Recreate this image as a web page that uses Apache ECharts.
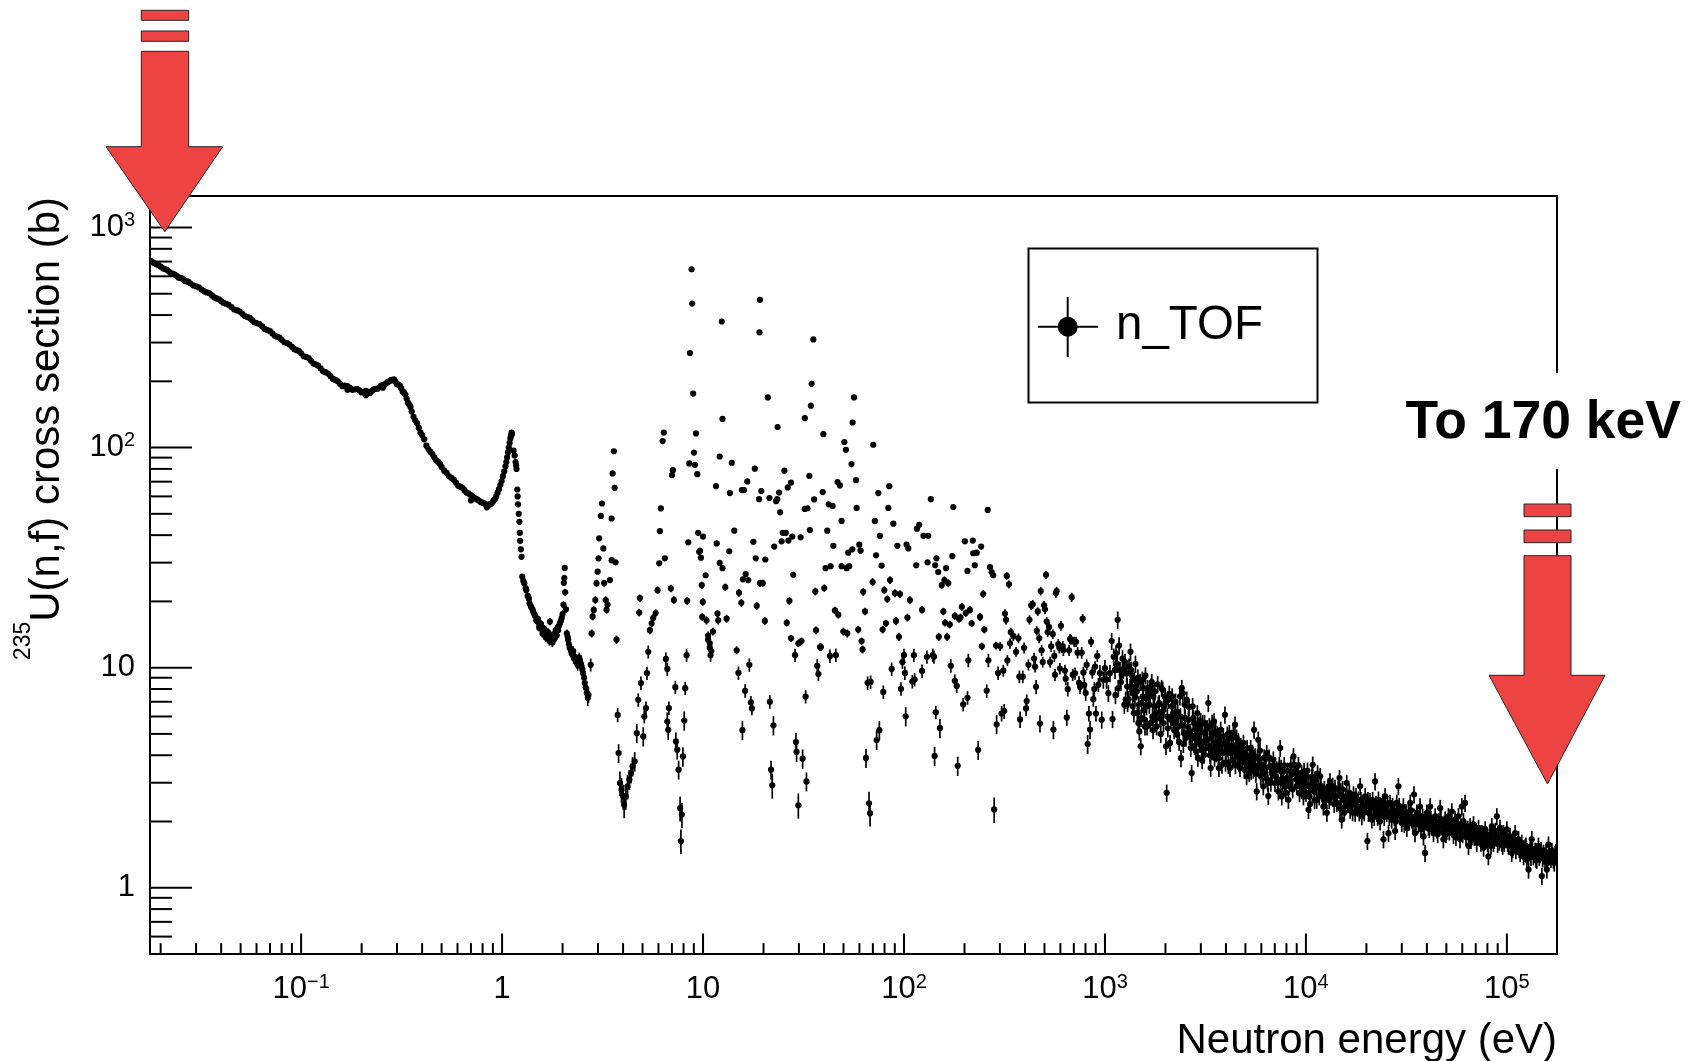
<!DOCTYPE html>
<html>
<head>
<meta charset="utf-8">
<script src="https://cdn.jsdelivr.net/npm/echarts@6.0.0/dist/echarts.min.js"></script>
<style>
html,body{margin:0;padding:0;background:#fff;}
#chart{width:1691px;height:1061px;}
</style>
</head>
<body>
<div id="chart"></div>
<script>
// ---------- axis ranges ----------
const X_MIN = 0.0177, X_MAX = 177600;
const Y_MIN = 0.5, Y_MAX = 1390;

// ---------- tick values / labels ----------
const xMajorTicks = [0.1, 1, 10, 100, 1000, 10000, 100000];
const xTickLabels = ['10{s|−1}', '1', '10', '10{s|2}', '10{s|3}', '10{s|4}', '10{s|5}'];
const xMinorTicks = [0.02,0.03,0.04,0.05,0.06,0.07,0.08,0.09,
  0.2,0.3,0.4,0.5,0.6,0.7,0.8,0.9, 2,3,4,5,6,7,8,9, 20,30,40,50,60,70,80,90,
  200,300,400,500,600,700,800,900, 2000,3000,4000,5000,6000,7000,8000,9000,
  20000,30000,40000,50000,60000,70000,80000,90000];
const yMajorTicks = [1, 10, 100, 1000];
const yTickLabels = ['1', '10', '10{s|2}', '10{s|3}'];
const yMinorTicks = [0.6,0.7,0.8,0.9, 2,3,4,5,6,7,8,9, 20,30,40,50,60,70,80,90, 200,300,400,500,600,700,800,900];

// ---------- data: [energy (eV), cross section (b)] ----------
// thermal / 1/v region (error bars smaller than markers)
const thermal = [[0.0177,708],[0.018,701],[0.019,681],[0.020,664],[0.021,647],[0.022,631],[0.023,615],[0.024,603],[0.025,590],[0.026,579],[0.027,569],[0.028,558],[0.030,540],[0.032,522],[0.034,507],[0.036,491],[0.038,476],[0.040,463],[0.042,451],[0.045,435],[0.048,420],[0.051,405],[0.054,392],[0.057,379],[0.060,368],[0.064,355],[0.068,342],[0.072,330],[0.076,319],[0.080,309],[0.085,298],[0.090,287],[0.095,277],[0.100,268],[0.106,258],[0.112,248],[0.118,239],[0.125,229],[0.132,220],[0.140,211],[0.148,203],[0.156,195],[0.165,191],[0.17,183],[0.175,187],[0.185,184],[0.195,182],[0.205,179],[0.21,173],[0.215,179],[0.225,181],[0.235,185],[0.245,188],[0.255,192],[0.255,187],[0.265,196],[0.275,200],[0.285,202],[0.295,199],[0.305,193],[0.315,186],[0.325,178],[0.335,167],[0.345,157],[0.355,146],[0.37,133],[0.385,123],[0.40,114],[0.42,102],[0.44,95.5],[0.46,90.2],[0.48,86.1],[0.50,81.7],[0.53,76.7],[0.56,72.8],[0.59,69.2],[0.62,66.4],[0.65,64.0],[0.68,61.9],[0.70,57.5],[0.71,60.1],[0.74,58.6],[0.77,57.3],[0.80,56.2],[0.83,55.2],[0.84,53.5],[0.86,55.0],[0.89,56.0],[0.92,58.2],[0.95,62.4],[0.98,67.6],[1.01,74.1],[1.04,82.2],[1.06,90.2],[1.08,100],[1.10,110],[1.12,115]];
const thermalB = [[0.0185,690],[0.0195,676],[0.0205,652],[0.0215,642],[0.0225,620],[0.0235,611],[0.0245,593],[0.0255,588],[0.0265,571],[0.0275,566],[0.029,546],[0.031,534],[0.033,512],[0.035,502],[0.037,481],[0.039,472],[0.041,455],[0.0435,446],[0.0465,424],[0.0495,415],[0.0525,396],[0.0555,388],[0.0585,371],[0.062,364],[0.066,345],[0.070,338],[0.074,322],[0.078,316],[0.0825,301],[0.0875,294],[0.0925,280],[0.0975,274],[0.103,260],[0.109,255],[0.115,241],[0.1215,236],[0.1285,222],[0.136,217],[0.144,205],[0.152,200],[0.1605,190],[0.170,190],[0.180,183],[0.190,185],[0.200,178],[0.210,181],[0.220,177],[0.230,184],[0.240,185],[0.250,191],[0.260,193],[0.270,199],[0.280,203],[0.290,204],[0.300,194],[0.310,191],[0.320,180],[0.330,174],[0.340,160],[0.350,153],[0.3625,138],[0.3775,129],[0.3925,117],[0.41,109],[0.43,98.5],[0.45,93.5],[0.47,87.5],[0.49,84.5],[0.515,78.5],[0.545,74.0],[0.575,71.5],[0.605,67.0],[0.635,65.5],[0.665,62.5],[0.695,61.0],[0.725,59.0],[0.755,58.0],[0.785,56.5],[0.815,55.8],[0.845,54.6],[0.875,55.3],[0.905,57.2],[0.935,60.0],[0.965,64.8],[0.995,70.5],[1.025,78.0],[1.05,86.0],[1.07,95.0],[1.09,105],[1.105,113],[1.115,117]];

// resolved resonance region: [E, sigma, error]
const resolvedLow = [[1.14,97,0],[1.167,86,0],[1.18,80,0],[1.19,64.5,0],[1.20,55.2,0],[1.22,46,0],[1.23,37.7,0],[1.25,31.9,0],[1.26,25.9,0],[1.29,24.2,0.6],[1.32,22.5,0.6],[1.35,21.0,0.6],[1.37,19.6,0.6],[1.40,18.8,0.6],[1.43,17.9,0.6],[1.46,17.2,0.6],[1.49,16.7,0.6],[1.52,16.0,0.6],[1.54,15.6,0.6],[1.57,15.2,0.6],[1.60,14.8,0.6],[1.63,14.4,0.6],[1.67,14.1,0.6],[1.70,13.8,0.6],[1.73,16.2,0.6],[1.76,13.6,0.6],[1.80,13.9,0.6],[1.83,14.3,0.6],[1.87,14.0,0.6],[1.90,14.8,0.6],[1.94,15.9,0.6],[1.98,16.8,0.6],[2.02,19.3,0.7],[2.03,24.3,0.8],[2.04,25.5,0.8],[2.05,28.4,0.8],[2.08,18.4,0.7],[2.10,14.3,0.6],[2.13,13.4,0.6],[2.17,12.3,0.6],[2.22,11.6,0.6],[2.26,11.9,0.6],[2.30,11.2,0.6],[2.35,10.5,0.6],[2.40,10.9,0.6],[2.44,10.8,0.6],[2.49,10.1,0.6],[2.53,9.44,0.6],[2.58,8.51,0.6],[2.64,7.66,0.6],[2.69,7.52,0.6],
[1.155,92,0],[1.175,83,0],[1.195,60,0],[1.21,50,0],[1.225,41,0],[1.24,34.5,0],[1.275,24.8,0.6],[1.31,23.0,0.6],[1.34,21.2,0.6],[1.36,20.5,0.6],[1.39,19.0,0.6],[1.42,18.3,0.6],[1.45,17.4,0.6],[1.48,16.4,0.6],[1.51,16.6,0.6],[1.53,15.2,0.6],[1.56,15.8,0.6],[1.59,14.3,0.6],[1.62,15.0,0.6],[1.65,13.7,0.6],[1.69,14.5,0.6],[1.72,13.2,0.6],[1.75,14.0,0.6],[1.78,13.0,0.6],[1.82,13.5,0.6],[1.85,14.8,0.6],[1.89,15.2,0.6],[1.92,15.5,0.6],[1.96,16.3,0.6],[2.00,17.5,0.7],[2.06,22,0.8],[2.12,13.8,0.6],[2.15,12.8,0.6],[2.20,12.0,0.6],[2.25,11.4,0.6],[2.28,11.0,0.6],[2.33,10.8,0.6],[2.38,10.3,0.6],[2.42,11.1,0.6],[2.47,10.4,0.6],[2.51,9.8,0.6],[2.56,9.0,0.6],[2.61,8.1,0.6],[2.67,7.3,0.6],
[2.76,10.3,0.7],[2.79,14.3,0.6],[2.82,17.1,0.7],[2.86,18.3,0.7],[2.91,20.3,0.8],[2.95,24.2,0.9],[2.99,27.3,0],[3.02,31.4,0],[3.04,38.7,0],[3.10,48.9,0],[3.14,55.7,0],[3.19,34.8,0],[3.22,24.2,0.9],[3.28,20.3,0.8],[3.31,18.3,0.7],[3.35,19.3,0.8],[3.44,25.0,0],[3.51,30.8,0],[3.51,47.6,0],[3.55,76.3,0],[3.60,96.2,0],[3.63,65.6,0],[3.67,30.1,0],[3.71,13.4,0.6],[3.76,6.1,0.45],[3.80,4.09,0.4],[3.86,2.99,0.38],[3.93,2.79,0.36],[4.01,2.60,0.34],[4.05,2.38,0.31],[4.13,2.60,0.34],[4.21,2.89,0.37],[4.30,3.10,0.32],[4.38,3.32,0.34],[4.46,3.56,0.36],[4.57,3.75,0.38],[4.68,5.04,0.5],[4.76,7.14,0.5],[4.81,17.8,0.7],[4.85,20.7,0.8],[4.91,8.51,0.6],[5.04,4.87,0.49],[5.10,6.0,0.42],[5.20,6.55,0.46],[5.26,9.44,0.66],[5.34,11.8,0.8],[5.44,14.8,0.6],[5.55,15.9,0.6],[5.65,16.8,0.7],[5.81,17.7,0.7],[5.94,22.5,0.9],[6.05,29.8,0],[6.10,41.7,0],[6.17,52.9,0],[6.29,107,0],[6.38,117,0],[6.46,31.4,0],[6.53,10.96,0.77],[6.64,9.87,0.69],[6.76,6.55,0.46],[6.64,5.69,0.57],[6.71,5.22,0.52],[6.92,22.9,0.9],[7.00,74.9,0],[7.08,78.9,0],[7.16,20.3,0.8],[7.28,8.15,0.57],[7.33,4.62,0.46],[7.44,4.24,0.42],[7.56,3.44,0.34],[7.69,2.30,0.3],[7.85,2.15,0.28],[7.76,1.63,0.21],[7.94,3.95,0.4],[8.06,5.75,0.58],[8.15,8.07,0.56],[8.28,11.4,0.8],[8.34,20.1,0.8],[8.44,37.1,0],[8.54,84.7,0],
[8.61,269,0],[8.77,646,0],[8.83,451,0],[8.93,176,0],[9.01,94.9,0],[9.12,83.5,0],[9.22,116,0],[9.36,75.7,0],[9.46,41.0,0],[9.57,33.6,0],[9.66,34.0,0],[9.76,31.6,0],[9.85,23.7,0.9],[9.91,17.0,0.7],[9.98,19.9,0.8],[10.0,39.4,0],[10.3,26.3,0],[10.4,16.4,0.7],[10.6,13.4,0.5],[10.8,12.3,0.5]];

const resolvedMid = [[10.6,14.0,0.6],[10.8,12.9,0.5],[11.0,11.9,0.8],[10.9,11.4,0.8],[11.2,14.6,0.6],[11.6,66.8,0],[11.7,36.7,0],[11.8,17.6,0.7],[11.9,16.4,0.7],[12.1,91.1,0],[12.4,374,0],[12.5,135,0],[12.1,29.9,0],[12.5,28.3,0],[12.9,23.2,0.9],[13.1,16.7,0.7],[13.5,33.8,0],[13.6,62.1,0],[13.9,85.3,0],[14.3,41.9,0],[14.7,12.0,0.5],[15.0,9.46,0.66],[15.1,21.9,0.9],[15.5,19.7,0.8],[15.7,5.20,0.52],[15.6,64.1,0],[16.0,64.1,0],[15.8,25.2,0],[16.3,26.6,0],[16.8,25.0,0],[16.2,7.85,0.55],[16.6,70.2,0],[17.0,10.3,0.72],[17.3,6.95,0.49],[17.5,6.53,0.46],[17.8,37.3,0],[18.1,80.2,0],[18.3,31.4,0],[18.5,19.1,0.8],[19.0,58.3,0],[19.1,334,0],[19.2,469,0],[19.5,63.4,0],[19.2,24.2,0.9],[19.8,24.2,0.9],[20.3,16.3,0.7],[20.4,31.0,0],[21.0,169,0],[21.4,59.0,0],[21.5,7.0,0.49],[22.4,5.47,0.55],[21.8,3.44,0.34],[22.1,2.92,0.38],[22.6,35.5,0],[23.1,57.1,0],[23.4,58.3,0],[23.5,124,0],[23.9,62.5,0],[24.2,50.8,0],[24.6,37.5,0],[24.9,41.0,0],[25.4,78.5,0],[25.8,41.0,0],[26.1,16.0,0.6],[26.4,65.9,0],[26.6,37.8,0],[26.9,20.1,0.8],[27.4,69.3,0],[27.4,13.6,0.5],[27.8,39.4,0],[28.1,26.4,0],[28.7,11.4,0.8],[29.2,4.14,0.41],[29.0,4.59,0.46],[29.8,2.37,0.31],[29.8,12.9,0.5],[30.6,39.1,0],[30.9,13.2,0.5],[31.3,3.86,0.39],[32.1,136,0],[32.4,7.39,0.52],[32.7,3.04,0.3],[32.1,52.6,0],[33.1,53.0,0],[33.8,74.3,0],[34.0,42.2,0],[34.4,155,0],[34.7,195,0],[35.4,310,0],[35.7,58.1,0],[36.2,22.2,0.9],[36.5,14.8,0.6],[37.0,10.2,0.71],[37.5,9.35,0.65],[38.2,12.4,0.5],[38.6,12.4,0.5],[39.4,62.8,0],[39.7,115,0],[40.1,23.0,0.9],[40.7,28.3,0],[41.5,41.9,0],[42.2,55.2,0],[42.8,11.3,0.79],[43.1,28.9,0],[44.1,54.3,0],[44.5,35.8,0],[45.3,18.2,0.7],[45.8,11.4,0.8],[46.7,69.7,0],[47.1,17.4,0.7],[48.0,67.3,0],[48.9,46.4,0],[48.9,28.9,0],[49.9,14.6,0.6],[50.5,106,0],[51.4,97.7,0],[51.8,28.3,0],[52.2,14.3,0.6],[52.8,33.3,0],[53.4,28.9,0],[54.8,84.1,0],[55.3,34.5,0],[55.5,130,0],[56.4,169,0],[57.7,71.1,0],[58.1,53.2,0],[59.2,14.9,0.6],[59.9,36.2,0],[60.8,34.0,0],[61.5,13.2,0.5],[62.2,12.1,0.5],[62.7,22.1,0.9],[64.0,18.0,0.7],[64.7,3.89,0.39],[65.9,8.53,0.6],[67.0,2.42,0.31],[67.8,2.18,0.28],[68.2,8.61,0.6],[69.8,24.5,1.0],[70.3,103,0],[71.6,46.4,0],[72.6,32.4,0],[73.1,4.69,0.47],[74.5,62.1,0],[75.4,5.20,0.52],[75.9,39.7,0],[77.4,29.1,0],[78.3,14.9,0.6],[78.9,7.76,0.54],[79.8,22.5,0.9],[81.3,15.9,0.6],[82.6,20.5,0.8],[83.6,53.2,0],[84.5,66.8,0],[85.2,25.0,1.0],[86.8,9.87,0.69],[88.5,45.1,0],[90.2,21.8,0.9],[91.2,16.3,0.7],[92.7,35.8,0],[94.4,13.8,0.6],[95.5,21.6,0.9],[96.6,8.02,0.56],[98.2,10.6,0.74],[100,11.4,0.8],[101,9.46,0.66],[102,6.01,0.6],[103,36.2,0],[104,16.9,0.7],[105,34.8,0],[107,20.3,0.8],[110,8.65,0.61],[112,11.4,0.8],[113,8.83,0.62],[115,29.2,0],[116,42.8,0],[119,44.6,0],[123,9.66,0.68],[123,18.3,0.7],[125,39.7,0],[130,11.2,0.78],[131,30.1,0],[132,39.7,0],[136,58.3,0],[139,11.4,0.8],[141,11.2,0.78],[142,3.97,0.4],[143,29.2,0],[144,6.27,0.44],[145,31.4,0],[148,27.2,0],[149,13.8,0.6],[151,5.31,0.53],[154,23.7,0.9],[157,18.0,0.7],[159,25.0,1.0],[160,16.0,0.6],[162,28.3,0],[164,13.8,0.6],[166,24.2,1.0],[169,15.7,0.6],[171,10.2,0.71],[174,32.1,0],[176,53.7,0],[179,17.2,0.7],[179,8.71,0.61],[183,8.26,0.58],[185,3.58,0.36],[188,16.7,0.7],[191,16.9,0.7],[194,18.9,0.8],[197,6.81,0.48],[201,37.5,0],[203,17.7,0.7],[207,7.30,0.51],[207,27.5,0],[209,10.8,0.76],[213,18.3,0.7],[217,15.9,0.6],[220,37.8,0],[221,33.1,0],[225,29.2,0],[230,33.3,0],[234,4.23,0.42],[239,17.0,0.7],[242,35.5,0],[244,12.5,0.5],[248,21.6,0.9],[251,14.9,0.6],[258,7.85,0.55],[261,52.1,0],[263,10.8,0.76],[268,28.6,0],[273,27.2,0],[278,26.3,0],[281,2.27,0.3],[287,12.6,0.5],[289,5.53,0.55],[294,9.46,0.66]];

const resolvedHigh = [[301,12.5,0.6],[306,6.19,0.5],[312,9.70,0.6],[315,6.34,0.5],[318,17.6,0.8],[322,16.5,0.8],[325,26.1,1.0],[327,10.8,0.6],[333,23.9,1.0],[337,12.9,0.7],[340,14.5,0.7],[350,13.9,0.7],[361,11.8,0.6],[371,13.6,0.7],[375,9.1,0.6],[378,5.82,0.5],[390,9.1,0.6],[396,12.3,0.7],[405,6.53,0.5],[408,7.05,0.5],[416,10.3,0.6],[421,16.5,0.8],[429,19.2,0.9],[437,19.4,0.9],[444,11.0,0.7],[449,10.1,0.6],[454,8.18,0.6],[458,14.7,0.7],[463,18.0,0.8],[471,13.6,0.7],[475,5.57,0.5],[479,22.3,1.0],[484,12.0,0.7],[490,10.6,0.6],[498,19.2,0.9],[503,18.4,0.9],[509,26.4,1.1],[513,16.2,0.8],[519,14.5,0.7],[527,15.3,0.8],[533,10.6,0.6],[540,12.5,0.7],[550,14.2,0.7],[554,5.23,0.5],[560,11.3,0.7],[564,9.29,0.6],[570,21.8,1.0],[575,22.3,1.0],[586,12.8,0.7],[593,12.3,0.7],[597,9.91,0.6],[604,15.5,0.8],[617,12.5,0.7],[621,12.0,0.7],[632,9.70,0.6],[638,8.91,0.6],[646,5.94,0.5],[653,8.0,0.6],[663,12.0,0.7],[670,13.5,0.7],[678,13.4,0.7],[683,20.9,1.0],[691,9.29,0.6],[702,13.1,0.7],[710,9.42,0.6],[718,13.1,0.7],[731,11.7,0.7],[743,8.53,0.6],[752,8.18,0.6],[766,11.7,0.7],[775,16.7,0.8],[781,9.51,0.6],[789,8.36,0.6],[802,7.67,0.6],[811,10.3,0.6],[820,4.50,0.45],[832,6.19,0.5],[843,5.23,0.5],[853,13.1,0.7],[865,9.51,0.6],[875,7.19,0.55],[885,8.0,0.6],[893,10.1,0.6],[902,6.19,0.5],[916,11.3,0.7],[927,8.36,0.6]];

// unresolved / continuum region: [E, sigma]; error bars ~9 %
const CONT_REL_ERR = 0.09;
const continuumA = [[944,9.44],[964,5.80],[982,8.81],[1000,9.95],[1019,8.81],[1040,7.66],[1059,9.44],[1080,13.2],[1091,5.84],[1122,9.77],[1135,11.6],[1157,16.5],[1165,8.07],[1188,9.77],[1211,9.27],[1234,9.77],[1248,6.78],[1268,7.14],[1282,9.44],[1297,6.90],[1318,10.1],[1334,8.20],[1349,9.77],[1359,8.20],[1374,6.67],[1384,7.66],[1400,8.81],[1410,7.39],[1426,8.20],[1449,6.21],[1466,5.60],[1483,5.13],[1507,4.39],[1524,6.90],[1542,7.39],[1553,8.07],[1571,5.80],[1582,5.41],[1600,7.28],[1611,6.67],[1630,8.07],[1663,6.78],[1675,7.66],[1694,8.20],[1726,6.0],[1742,7.39],[1762,6.67],[1787,5.80],[1808,5.41],[1843,6.78],[1879,5.90],[1914,8.07],[1937,7.93],[1967,6.67],[1991,7.39],[2013,4.39],[2028,2.70],[2044,6.0],[2067,7.14],[2108,4.55],[2148,6.67],[2173,6.11],[2188,5.60],[2232,6.21],[2258,5.70],[2291,4.96],[2318,5.41],[2361,7.39],[2389,3.88],[2410,8.07],[2438,7.66],[2473,5.04],[2502,5.90],[2553,7.14],[2602,5.80],[2633,4.88],[2673,4.31],[2700,3.32],[2731,6.67],[2773,5.60],[2806,4.79],[2838,4.17],[2882,6.21],[2916,5.22],[2950,4.62],[2993,5.70],[3028,4.24],[3063,5.60],[3110,4.02],[3148,5.04],[3209,4.70],[3269,6.90],[3307,5.41],[3357,3.50],[3396,4.17],[3436,5.04],[3491,5.70],[3532,4.55],[3574,4.09],[3624,4.96],[3666,3.88],[3709,4.70],[3767,5.22],[3822,3.62],[3881,4.88],[3954,6.11],[4000,4.17],[4064,4.96],[4111,3.62],[4159,5.04],[4226,4.09],[4275,4.79],[4355,4.96],[4437,5.51],[4488,4.31],[4560,3.95],[4613,4.62],[4699,3.50],[4787,4.17],[4887,4.55],[4943,3.44],[5035,4.02],[5070,3.21],[5129,3.82],[5224,3.32],[5309,4.31],[5370,3.82],[5470,3.44],[5520,5.22],[5585,3.95],[5690,2.74],[5794,4.70],[5861,3.82],[5957,3.21],[6026,3.62],[6138,2.89],[6252,3.38],[6383,4.09],[6427,3.10],[6501,2.61],[6622,3.56],[6761,3.32],[6887,3.82],[7015,2.99],[7161,3.44],[7295,2.74]];
const continuumA2 = [[1105,11.2],[1128,7.5],[1150,10.4],[1176,12.6],[1200,8.6],[1222,11.0],[1258,10.6],[1290,8.2],[1310,7.2],[1340,11.8],[1366,9.2],[1392,6.2],[1418,10.4],[1440,7.8],[1458,9.0],[1475,6.8],[1495,8.6],[1515,5.9],[1535,8.8],[1560,6.4],[1590,9.2],[1620,5.4],[1650,7.6],[1685,5.6],[1710,8.6],[1735,5.2],[1770,7.8],[1800,6.2],[1830,8.4],[1860,6.9],[1895,5.0],[1925,6.3],[1955,5.6],[2000,6.9],[2055,5.3],[2090,7.6],[2130,5.8],[2160,7.4],[2210,5.2],[2245,7.0],[2300,6.3],[2340,4.6],[2375,6.0],[2420,5.5],[2455,4.5],[2490,6.8],[2530,4.8],[2580,5.4],[2620,6.6],[2660,5.1],[2715,4.9],[2750,5.9],[2790,4.4],[2825,5.3],[2860,4.9],[2900,3.9],[2940,5.5],[2975,4.5],[3010,5.1],[3045,3.8],[3090,4.6],[3130,5.6],[3170,4.3],[3230,5.3],[3290,4.4],[3330,4.0],[3375,4.8],[3415,5.6],[3470,4.3],[3510,3.9],[3555,5.1],[3600,4.3],[3645,4.5],[3690,3.5],[3740,4.2],[3795,4.5],[3850,4.1],[3920,4.5],[3980,3.7],[4030,4.6],[4090,4.3],[4140,4.4],[4190,3.5],[4250,4.4],[4310,3.8],[4400,4.2],[4460,3.6],[4520,4.8],[4590,4.1],[4650,3.7],[4740,4.4],[4830,3.9],[4920,4.1],[4990,3.7],[5100,4.3],[5180,3.6],[5260,3.9],[5340,3.4],[5420,4.1],[5550,3.6],[5640,3.3],[5740,3.9],[5830,3.5],[5910,4.2],[6080,3.3],[6200,3.9],[6320,3.5],[6460,3.0],[6560,3.9],[6690,3.0],[6820,3.4],[6950,3.6],[7090,3.2],[7230,3.0],[7370,3.6]];

const continuumB = [[7447,4.31],[7499,3.10],[7586,2.60],[7727,3.38],[7870,2.89],[8035,3.15],[8185,2.51],[8337,3.04],[8511,3.27],[8670,3.95],[8770,3.62],[8933,3.10],[9078,3.32],[9290,2.69],[9419,3.15],[9638,2.84],[9795,3.38],[9908,2.99],[10090,3.21],[10300,2.26],[10420,2.60],[10570,2.89],[10810,3.62],[10990,2.74],[11110,3.10],[11320,2.51],[11530,2.84],[11780,3.21],[11990,2.69],[12220,2.34],[12470,2.60],[12710,2.19],[12940,2.89],[13180,3.04],[13460,2.79],[13710,2.60],[13960,2.84],[14260,2.43],[14690,3.15],[14890,2.74],[15070,2.04],[15380,2.51],[15670,2.34],[15960,2.99],[16290,2.56],[16600,2.26],[16900,2.43],[17260,2.65],[17580,2.19],[17910,2.34],[18240,2.51],[18620,2.89],[18970,2.11],[19320,2.30],[19720,2.60],[20230,1.63],[20470,2.19],[20840,2.47],[21280,2.04],[21680,2.34],[22080,3.04],[22540,2.19],[22960,2.51],[23390,2.00],[23880,2.34],[24320,1.66],[24770,2.60],[25240,2.19],[25760,1.77],[26240,2.43],[26730,2.04],[27290,2.26],[27800,1.81],[28310,2.43],[28840,2.89],[29440,2.19],[29990,1.97],[30550,2.34],[31190,2.04],[31770,1.87],[32360,2.19],[33040,2.43],[33650,2.04],[34510,2.65],[34910,1.77],[35650,2.19],[36310,1.94],[36980,2.34],[37760,2.00],[38460,1.71],[39170,1.44],[39990,2.19],[40740,1.90],[41500,2.34],[42270,1.97],[43150,1.77],[43950,2.11],[44770,1.84],[45710,2.00],[46560,2.30],[47420,1.90],[48310,1.66],[49320,2.04],[50230,1.81],[51170,2.11],[52240,1.90],[53210,2.22],[54200,1.74],[55210,2.04],[56360,1.84],[57410,2.11],[58480,1.66],[59700,2.34],[60810,2.00],[61940,2.43],[63240,1.81],[64420,1.55],[65620,1.90],[66990,1.71],[68230,1.94],[69500,1.74],[70790,1.60],[72280,1.87],[73620,1.68],[74990,1.77],[76560,1.52],[77980,1.84],[79430,1.66],[80910,1.39],[82600,1.74],[84140,1.90],[85700,1.60],[87500,1.81],[89130,2.11],[90780,1.71],[92470,1.87],[94410,1.60],[96160,1.77],[97950,1.66],[100000,1.84],[101900,1.55],[103700,1.71],[105700,1.44],[107900,1.63],[109900,1.77],[111900,1.55],[114300,1.66],[116400,1.44],[118600,1.60],[121100,1.39],[123300,1.52],[125600,1.34],[128200,1.21],[130600,1.49],[133000,1.66],[135500,1.39],[138400,1.47],[140900,1.34],[143600,1.55],[146600,1.42],[149300,1.13],[152100,1.44],[154900,1.32],[158100,1.21],[161100,1.57],[164100,1.39],[167500,1.47],[170600,1.34],[173800,1.42],[177000,1.37]];
const continuumB2 = [[7530,3.5],[7660,3.0],[7800,3.6],[7950,2.7],[8110,3.4],[8260,2.9],[8420,3.6],[8590,2.8],[8850,3.4],[9000,2.9],[9180,3.6],[9350,3.0],[9530,3.3],[9720,2.6],[9850,3.1],[10000,2.7],[10180,3.4],[10360,2.9],[10500,2.4],[10700,3.2],[10900,3.0],[11050,2.5],[11220,2.9],[11430,3.3],[11650,2.6],[11880,2.9],[12100,2.6],[12350,2.8],[12600,2.5],[12830,2.7],[13060,2.5],[13320,2.6],[13590,2.9],[13840,2.4],[14100,2.6],[14470,2.8],[14790,2.3],[14980,2.6],[15220,2.8],[15520,2.2],[15810,2.6],[16130,2.4],[16450,2.7],[16750,2.5],[17080,2.2],[17420,2.4],[17750,2.6],[18080,2.3],[18430,2.2],[18800,2.5],[19140,2.4],[19520,2.2],[19970,2.4],[20350,2.5],[20660,2.2],[21060,2.3],[21480,2.5],[21880,2.1],[22310,2.4],[22750,2.1],[23170,2.3],[23630,2.2],[24100,2.45],[24540,2.1],[25000,2.3],[25500,2.4],[26000,2.1],[26480,2.2],[27010,2.35],[27540,2.1],[28060,2.0],[28570,2.2],[29140,2.35],[29710,2.1],[30270,2.2],[30870,1.95],[31480,2.2],[32060,2.05],[32700,2.0],[33340,2.25],[34080,1.95],[34700,2.1],[35280,2.0],[35980,2.15],[36650,2.05],[37370,1.85],[38110,2.1],[38810,1.9],[39580,2.0],[40360,2.1],[41120,1.85],[41880,2.05],[42710,1.95],[43550,1.9],[44360,2.0],[45240,1.75],[46130,1.95],[46990,2.05],[47860,1.8],[48810,1.95],[49770,1.75],[50700,1.95],[51700,1.8],[52720,2.0],[53700,1.85],[54700,1.9],[55780,1.7],[56880,1.95],[57940,1.8],[59080,1.9],[60250,1.75],[61370,1.9],[62590,1.7],[63830,1.85],[65020,1.75],[66300,1.65],[67600,1.85],[68860,1.7],[70140,1.8],[71530,1.7],[72950,1.75],[74300,1.6],[75770,1.75],[77270,1.65],[78700,1.75],[80170,1.6],[81750,1.7],[83370,1.55],[84920,1.7],[86600,1.65],[88310,1.7],[89950,1.58],[91620,1.62],[93430,1.7],[95280,1.55],[97050,1.6],[98970,1.72],[100900,1.6],[102800,1.65],[104700,1.55],[106800,1.5],[108900,1.6],[110900,1.48],[113100,1.58],[115300,1.5],[117500,1.55],[119800,1.48],[122200,1.45],[124400,1.55],[126900,1.4],[129400,1.45],[131800,1.38],[134200,1.5],[136900,1.42],[139600,1.35],[142200,1.45],[145100,1.38],[147900,1.48],[150700,1.36],[153500,1.4],[156500,1.45],[159600,1.3],[162600,1.42],[165800,1.35],[169000,1.4],[172200,1.3],[175400,1.45]];

// ---------- build point table ----------
const points = [];
thermal.forEach(p => points.push([p[0], p[1], 0]));
thermalB.forEach(p => points.push([p[0], p[1], 0]));
resolvedLow.forEach(p => points.push(p));
resolvedMid.forEach(p => points.push(p));
resolvedHigh.forEach(p => points.push(p));
[continuumA, continuumA2, continuumB, continuumB2].forEach(arr =>
  arr.forEach(p => points.push([p[0], p[1], p[1] * CONT_REL_ERR])));

const FONT = "'Liberation Sans', Arial, Helvetica, sans-serif";
const RED = '#ee4343';
const EDGE = '#262626';

function renderPoint(params, api) {
  const e = api.value(0), s = api.value(1), d = api.value(2);
  const c = api.coord([e, s]);
  const kids = [];
  if (d > 0) {
    const lo = api.coord([e, s - d]);
    const hi = api.coord([e, s + d]);
    kids.push({type: 'line', shape: {x1: c[0], y1: lo[1], x2: c[0], y2: hi[1]},
      style: {stroke: '#000', lineWidth: 1.7}});
  }
  kids.push({type: 'circle', shape: {cx: c[0], cy: c[1], r: 3.1}, style: {fill: '#000'}});
  return {type: 'group', children: kids};
}

function xTickRenderer(len) {
  return function (params, api) {
    const c = api.coord([api.value(0), Y_MIN]);
    return {type: 'line', shape: {x1: c[0], y1: c[1], x2: c[0], y2: c[1] - len},
      style: {stroke: '#000', lineWidth: 2}};
  };
}
function yTickRenderer(len) {
  return function (params, api) {
    const c = api.coord([X_MIN, api.value(1)]);
    return {type: 'line', shape: {x1: c[0], y1: c[1], x2: c[0] + len, y2: c[1]},
      style: {stroke: '#000', lineWidth: 2}};
  };
}
const supRich = {s: {fontSize: 20, fontFamily: FONT, fill: '#000', verticalAlign: 'top', lineHeight: 20}};

function xLabelRenderer(params, api) {
  const c = api.coord([api.value(0), Y_MIN]);
  return {type: 'text', x: c[0], y: c[1] + 35,
    style: {text: xTickLabels[api.value(2)], fontSize: 31, fontFamily: FONT, fill: '#000',
      align: 'center', verticalAlign: 'middle', lineHeight: 34, rich: supRich}};
}
function yLabelRenderer(params, api) {
  const c = api.coord([X_MIN, api.value(1)]);
  return {type: 'text', x: c[0] - 15, y: c[1],
    style: {text: yTickLabels[api.value(2)], fontSize: 31, fontFamily: FONT, fill: '#000',
      align: 'right', verticalAlign: 'middle', lineHeight: 34, rich: supRich}};
}

function customSeries(data, fn, z, clip) {
  return {type: 'custom', coordinateSystem: 'cartesian2d', data: data, renderItem: fn,
    encode: {x: 0, y: 1}, clip: !!clip, silent: true, z: z, animation: false};
}

const chart = echarts.init(document.getElementById('chart'), null, {renderer: 'canvas'});

const arrowStyle = {fill: RED, stroke: EDGE, lineWidth: 1};

chart.setOption({
  backgroundColor: '#fff',
  animation: false,
  grid: {left: 150, right: 134, top: 196, bottom: 107, show: true,
    borderColor: '#000', borderWidth: 2, backgroundColor: 'transparent'},
  xAxis: {type: 'log', logBase: 10, min: X_MIN, max: X_MAX,
    axisLine: {show: false}, axisTick: {show: false}, axisLabel: {show: false}, splitLine: {show: false}},
  yAxis: {type: 'log', logBase: 10, min: Y_MIN, max: Y_MAX,
    axisLine: {show: false}, axisTick: {show: false}, axisLabel: {show: false}, splitLine: {show: false}},
  series: [
    customSeries(points, renderPoint, 5, true),
    customSeries(xMajorTicks.map(v => [v, Y_MIN]), xTickRenderer(20.5), 10),
    customSeries(xMinorTicks.map(v => [v, Y_MIN]), xTickRenderer(10.8), 10),
    customSeries(yMajorTicks.map(v => [X_MIN, v]), yTickRenderer(42), 10),
    customSeries(yMinorTicks.map(v => [X_MIN, v]), yTickRenderer(22), 10),
    customSeries(xMajorTicks.map((v, i) => [v, Y_MIN, i]), xLabelRenderer, 10),
    customSeries(yMajorTicks.map((v, i) => [X_MIN, v, i]), yLabelRenderer, 10)
  ],
  graphic: [
    // axis titles
    {type: 'text', x: 47, y: 197, rotation: Math.PI / 2, z: 100,
      style: {text: '{s|235}U(n,f) cross section (b)', fontSize: 42, fontFamily: FONT, fill: '#000',
        align: 'right', verticalAlign: 'middle', lineHeight: 70,
        rich: {s: {fontSize: 23, fontFamily: FONT, fill: '#000', verticalAlign: 'top', lineHeight: 23}}}},
    {type: 'text', x: 1557, y: 1041, z: 100,
      style: {text: 'Neutron energy (eV)', fontSize: 42, fontFamily: FONT, fill: '#000',
        align: 'right', verticalAlign: 'middle'}},
    // legend
    {type: 'rect', z: 100, shape: {x: 1028.5, y: 248.5, width: 289, height: 154},
      style: {fill: '#fff', stroke: '#000', lineWidth: 2}},
    {type: 'line', z: 101, shape: {x1: 1038, y1: 326.7, x2: 1098, y2: 326.7}, style: {stroke: '#000', lineWidth: 2}},
    {type: 'line', z: 101, shape: {x1: 1067.7, y1: 297, x2: 1067.7, y2: 357}, style: {stroke: '#000', lineWidth: 2}},
    {type: 'circle', z: 102, shape: {cx: 1067.7, cy: 326.7, r: 10}, style: {fill: '#000'}},
    {type: 'text', z: 102, x: 1116, y: 326,
      style: {text: 'n_TOF', fontSize: 47.5, fontFamily: FONT, fill: '#000', align: 'left', verticalAlign: 'middle'}},
    // white box + "To 170 keV"
    {type: 'rect', z: 100, shape: {x: 1400, y: 373, width: 291, height: 96}, style: {fill: '#fff'}},
    {type: 'text', z: 101, x: 1681, y: 423,
      style: {text: 'To 170 keV', fontSize: 53.5, fontWeight: 'bold', fontFamily: FONT, fill: '#000',
        align: 'right', verticalAlign: 'middle'}},
    // top-left arrow
    {type: 'rect', z: 100, shape: {x: 141.3, y: 10.3, width: 47.4, height: 10}, style: arrowStyle},
    {type: 'rect', z: 100, shape: {x: 141.3, y: 31, width: 47.4, height: 10.3}, style: arrowStyle},
    {type: 'polygon', z: 100, shape: {points: [[141.3, 51.3], [188.7, 51.3], [188.7, 146.7], [222.7, 146.7], [164.8, 231.7], [106, 146.7], [141.3, 146.7]]}, style: arrowStyle},
    // right arrow
    {type: 'rect', z: 100, shape: {x: 1524, y: 504, width: 47, height: 12.7}, style: arrowStyle},
    {type: 'rect', z: 100, shape: {x: 1524, y: 530, width: 47, height: 12.7}, style: arrowStyle},
    {type: 'polygon', z: 100, shape: {points: [[1524, 555.7], [1571, 555.7], [1571, 675.3], [1605, 675.3], [1547.5, 784], [1489, 675.3], [1524, 675.3]]}, style: arrowStyle}
  ]
});
</script>
</body>
</html>
